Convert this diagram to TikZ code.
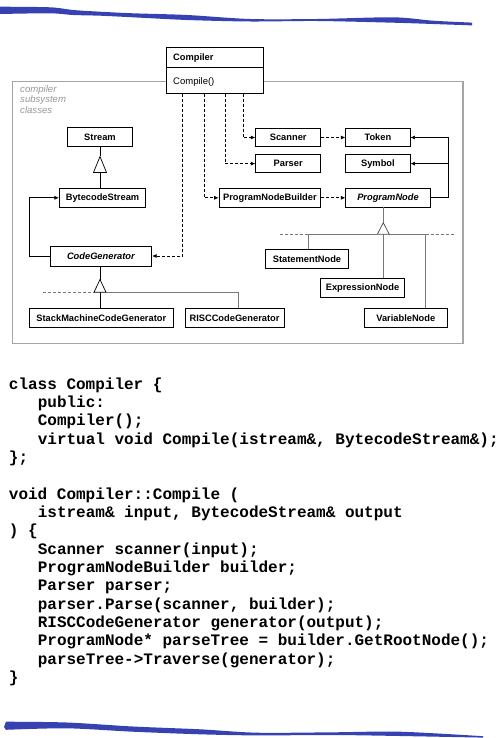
\documentclass[tikz,border=0pt]{standalone}
\usepackage{fontspec}
\usetikzlibrary{arrows.meta,calc}
\newfontfamily\umlfont{Liberation Sans}
\newfontfamily\codefont{Liberation Mono}
\definecolor{brush}{RGB}{55,66,178}
\definecolor{framegray}{RGB}{165,165,165}
\definecolor{hiergray}{RGB}{120,120,120}
\definecolor{labelgray}{RGB}{150,150,150}

\begin{document}
\begin{tikzpicture}[x=1pt,y=-1pt,
  cls/.style={draw, line width=0.8pt, fill=white, inner sep=0pt,
    font=\umlfont\bfseries\fontsize{9.3}{11}\selectfont},
  abstractcls/.style={cls, font=\umlfont\bfseries\itshape\fontsize{9.3}{11}\selectfont},
  dep/.style={draw, line width=0.7pt, dash pattern=on 3pt off 2pt,
    -{Latex[length=4.5pt,width=4pt]}},
  assoc/.style={draw, line width=0.7pt, -{Latex[length=4.5pt,width=4pt]}},
  genline/.style={draw, line width=0.7pt},
  hierline/.style={draw, line width=0.7pt, hiergray},
  hierdash/.style={draw, line width=0.7pt, hiergray, dash pattern=on 3pt off 2pt},
  gentri/.style={draw, line width=0.7pt, fill=white},
  codeline/.style={anchor=base west, inner sep=0pt,
    font=\codefont\bfseries\fontsize{16}{18}\selectfont},
  framelabel/.style={anchor=base west, inner sep=0pt, text=labelgray,
    font=\umlfont\itshape\fontsize{9.6}{10}\selectfont}]

\useasboundingbox (0,0) rectangle (503,738);

% brush strokes at the top and bottom of the page
\fill[brush] plot[smooth] coordinates {(0,6.7) (50,7.3) (73,10) (100,11.7) (133,13.3)
  (187,15) (250,19) (317,19) (393,17.3) (433,20.7) (472,22.6)}
  -- plot[smooth] coordinates {(472,25.4) (433,24) (393,22.7) (317,21) (250,21.5)
  (187,20) (133,17.3) (100,15.7) (73,15) (50,13.3) (0,14)} -- cycle;
\fill[brush] plot[smooth] coordinates {(6,721.7) (67,722.5) (133,726.5) (200,729.3)
  (257,732.7) (333,732.3) (400,731.7) (483,736.2)}
  -- plot[smooth] coordinates {(483,737.6) (400,736) (333,735) (257,735.4)
  (200,734.3) (133,731.7) (67,728.3) (6,729.8)} -- (4,727) -- cycle;

% subsystem frame
\draw[framegray, line width=1.2pt] (12.3,81.7) rectangle (463,343.3);
\node[framelabel] (lblA) at (20,92.3) {compiler};
\node[framelabel] (lblB) at (20,103) {subsystem};
\node[framelabel] (lblC) at (20,113.6) {classes};

% Compiler class
\node[draw, line width=0.8pt, fill=white, inner sep=0pt,
  minimum width=97pt, minimum height=46.3pt] (compiler) at (214.5,70.2) {};
\draw[line width=0.8pt] ($(compiler.north west)+(0,21)$) -- ($(compiler.north east)+(0,21)$);
\node[anchor=base west, inner sep=0pt, font=\umlfont\bfseries\fontsize{9.3}{11}\selectfont]
  (cname) at (173,60.5) {Compiler};
\node[anchor=base west, inner sep=0pt, font=\umlfont\fontsize{9.5}{11}\selectfont]
  (cop) at (173,84.8) {Compile()};

% classes
\node[cls, minimum width=65pt, minimum height=18.3pt] (stream) at (100,136.9) {Stream};
\node[cls, minimum width=86.4pt, minimum height=19pt] (bytecode) at (102.5,197.8) {BytecodeStream};
\node[abstractcls, minimum width=101.7pt, minimum height=20pt] (codegen) at (100.85,256) {CodeGenerator};
\node[cls, minimum width=144pt, minimum height=19pt] (stackgen) at (101.3,317.8) {StackMachineCodeGenerator};
\node[cls, minimum width=99pt, minimum height=19pt] (riscgen) at (234.5,317.8) {RISCCodeGenerator};

\node[cls, minimum width=65pt, minimum height=18.4pt] (scanner) at (288.2,137.5) {Scanner};
\node[cls, minimum width=64.3pt, minimum height=18.4pt] (token) at (377.9,137.5) {Token};
\node[cls, minimum width=65pt, minimum height=18.4pt] (parser) at (288.2,163.6) {Parser};
\node[cls, minimum width=64.3pt, minimum height=18.4pt] (symbol) at (377.9,163.6) {Symbol};
\node[cls, minimum width=101.7pt, minimum height=18.4pt] (pnbuilder) at (269.9,197.8) {ProgramNodeBuilder};
\node[abstractcls, minimum width=84.3pt, minimum height=18.4pt] (prognode) at (388,197.8) {ProgramNode};

\node[cls, minimum width=82.6pt, minimum height=19pt] (stmtnode) at (307,258.8) {StatementNode};
\node[cls, minimum width=83.6pt, minimum height=19pt] (exprnode) at (362.5,287.8) {ExpressionNode};
\node[cls, minimum width=83pt, minimum height=19pt] (varnode) at (405.8,317.8) {VariableNode};

% Stream hierarchy
\coordinate (sApex) at (100,156.5);
\coordinate (sBase) at (100,172.5);
\draw[genline] (stream.south) -- (sApex);
\draw[genline] (sBase) -- (sBase |- bytecode.north);
\draw[gentri] (sApex) -- ($(sBase)+(-6.5,0)$) -- ($(sBase)+(6.5,0)$) -- cycle;

% CodeGenerator hierarchy
\coordinate (gApex) at (100,279.5);
\coordinate (gBase) at (100,292.3);
\coordinate (gLeft) at (43.3,292.3);
\coordinate (gRisc) at (238,292.3);
\draw[genline] (codegen.south -| gApex) -- (gApex);
\draw[hierdash] (gLeft) -- ($(gBase)+(-6,0)$);
\draw[hierline] ($(gBase)+(6,0)$) -- (gRisc) -- (gRisc |- riscgen.north);
\draw[genline] (gBase) -- (gBase |- stackgen.north);
\draw[gentri] (gApex) -- ($(gBase)+(-6,0)$) -- ($(gBase)+(6,0)$) -- cycle;

% ProgramNode hierarchy
\coordinate (pApex) at (383.3,222.7);
\coordinate (pBase) at (383.3,234.3);
\coordinate (pLeftEnd) at (280,234.3);
\coordinate (pStmt) at (308.3,234.3);
\coordinate (pVar) at (425.7,234.3);
\coordinate (pRightEnd) at (454,234.3);
\draw[hierline] (prognode.south -| pApex) -- (pApex);
\draw[hierdash] (pLeftEnd) -- (pStmt);
\draw[hierline] (pStmt) -- ($(pBase)+(-6,0)$);
\draw[hierline] ($(pBase)+(6,0)$) -- (pVar);
\draw[hierdash] (pVar) -- (pRightEnd);
\draw[hierline] (pStmt) -- (pStmt |- stmtnode.north);
\draw[hierline] (pBase) -- (pBase |- exprnode.north);
\draw[hierline] (pVar) -- (pVar |- varnode.north);
\draw[gentri, draw=black!70] (pApex) -- ($(pBase)+(-6,0)$) -- ($(pBase)+(6,0)$) -- cycle;

% dependencies of Compiler
\draw[dep] ([xshift=16.7pt]compiler.south west) |- (codegen.east);
\draw[dep] ([xshift=38.3pt]compiler.south west) |- (pnbuilder.west);
\draw[dep] ([xshift=59.7pt]compiler.south west) |- (parser.west);
\draw[dep] ([xshift=77.3pt]compiler.south west) |- (scanner.west);
\draw[dep] (scanner.east) -- (token.west);
\draw[dep] (pnbuilder.east) -- (prognode.west);

% associations
\draw[assoc] (codegen.west) -- ++(-20.7,0) |- (bytecode.west);
\draw[genline] (prognode.east) -- ++(17.5,0) coordinate (pj) -- (pj |- token.east);
\draw[assoc] (pj |- token.east) -- (token.east);
\draw[assoc] (pj |- symbol.east) -- (symbol.east);

% class declaration
\node[codeline] (d1) at (8.7,389) {class Compiler \{};
\node[codeline] (d2) at (37.6,407.3) {public:};
\node[codeline] (d3) at (37.6,425.7) {Compiler();};
\node[codeline] (d4) at (37.6,444) {virtual void Compile(istream\&, BytecodeStream\&);};
\node[codeline] (d5) at (8.7,462.3) {\};};

% method definition
\node[codeline] (m1) at (8.7,499) {void Compiler::Compile (};
\node[codeline] (m2) at (37.6,517.3) {istream\& input, BytecodeStream\& output};
\node[codeline] (m3) at (8.7,535.7) {) \{};
\node[codeline] (m4) at (37.6,554) {Scanner scanner(input);};
\node[codeline] (m5) at (37.6,572.3) {ProgramNodeBuilder builder;};
\node[codeline] (m6) at (37.6,590.7) {Parser parser;};
\node[codeline] (m7) at (37.6,609) {parser.Parse(scanner, builder);};
\node[codeline] (m8) at (37.6,627.3) {RISCCodeGenerator generator(output);};
\node[codeline] (m9) at (37.6,645.7) {ProgramNode* parseTree = builder.GetRootNode();};
\node[codeline] (m10) at (37.6,664) {parseTree->Traverse(generator);};
\node[codeline] (m11) at (8.7,682.3) {\}};
\end{tikzpicture}
\end{document}
